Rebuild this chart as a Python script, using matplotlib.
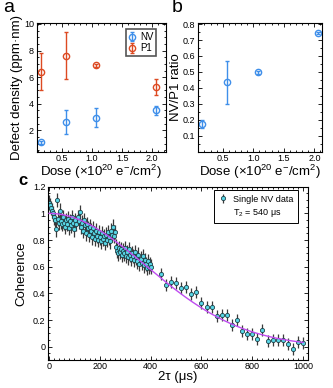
import numpy as np
import matplotlib
matplotlib.use("Agg")
import matplotlib.pyplot as plt
from matplotlib.ticker import MultipleLocator, FuncFormatter
from matplotlib.lines import Line2D

plt.rcParams['font.family'] = ['Liberation Sans', 'DejaVu Sans']
plt.rcParams['mathtext.fontset'] = 'custom'
plt.rcParams['mathtext.rm'] = 'Liberation Sans'
plt.rcParams['mathtext.it'] = 'Liberation Sans:italic'
plt.rcParams['axes.linewidth'] = 0.8

# ---------------- data ----------------
dose = [0.16, 0.57, 1.07, 2.06]
nv_density = [1.1, 2.62, 2.97, 3.5]
nv_density_err = [0.1, 0.9, 0.75, 0.37]
p1_density = [6.4, 7.62, 6.9, 5.25]
p1_density_err = [1.4, 1.76, 0.1, 0.58]

ratio = [0.174, 0.436, 0.497, 0.745]
ratio_err = [0.025, 0.135, 0.008, 0.008]

t_dense = list(range(0, 401, 4))
coh_dense = [1.08, 1.06, 1.04, 1.02, 1.00, 0.97, 0.95, 0.88, 1.10, 0.96,
             0.93, 1.02, 0.94, 0.92, 0.97, 0.93, 0.90, 0.95, 0.92, 0.96,
             0.89, 0.94, 0.91, 0.97, 0.93, 0.88, 0.95, 0.92, 0.97, 0.94,
             1.01, 0.90, 0.93, 0.87, 0.95, 0.91, 0.85, 0.92, 0.89, 0.84,
             0.90, 0.87, 0.82, 0.89, 0.85, 0.81, 0.87, 0.83, 0.80, 0.86,
             0.82, 0.79, 0.85, 0.81, 0.83, 0.78, 0.84, 0.80, 0.86, 0.82,
             0.79, 0.87, 0.84, 0.90, 0.83, 0.86, 0.75, 0.72, 0.70, 0.74,
             0.71, 0.73, 0.69, 0.72, 0.70, 0.74, 0.68, 0.71, 0.67, 0.73,
             0.69, 0.66, 0.70, 0.68, 0.65, 0.71, 0.67, 0.64, 0.69, 0.62,
             0.66, 0.63, 0.68, 0.61, 0.65, 0.62, 0.59, 0.64, 0.60, 0.62,
             0.60]
t_sparse = list(range(440, 1001, 20))
coh_sparse = [0.546, 0.463, 0.488, 0.478, 0.44, 0.445, 0.395, 0.413, 0.327,
              0.295, 0.295, 0.233, 0.238, 0.24, 0.162, 0.20, 0.12, 0.095,
              0.095, 0.057, 0.125, 0.04, 0.053, 0.053, 0.047, 0.02, -0.018,
              0.032, 0.027]
coh_err_dense = 0.055
coh_err_sparse = 0.045
T2 = 540.0      # fitted coherence time (us)
fit_exp = 2.0   # fitted stretch exponent

# ---------------- styles ----------------
blue = '#3f8fea'
red = '#dd4a22'
cyan = '#58d6e6'
purple = '#c04cf0'
tick_fs = 6.5
lab_fs = 9.5

fig = plt.figure(figsize=(3.33, 3.88), dpi=100)

def style_ax(ax):
    ax.tick_params(which='both', direction='in', top=True, right=True,
                   labelsize=tick_fs, width=0.6)
    ax.tick_params(axis='x', which='both', pad=1.5)
    ax.tick_params(axis='y', which='both', pad=2)
    ax.tick_params(which='major', length=3)
    ax.tick_params(which='minor', length=1.5)

gfmt = FuncFormatter(lambda v, p: '%g' % v)
dose_label = 'Dose (×10$^{\\mathregular{20}}$ e$^{\\mathregular{-}}$/cm$^{\\mathregular{2}}$)'

# ---------------- panel a ----------------
axa = fig.add_axes([0.110, 0.609, 0.387, 0.331])
axa.errorbar(dose, nv_density, yerr=nv_density_err, fmt='o', mfc='none',
             mec=blue, color=blue, ms=4.5, mew=1.0, elinewidth=1.0,
             capsize=1.2, capthick=0.8, label='NV')
axa.errorbar(dose, p1_density, yerr=p1_density_err, fmt='o', mfc='none',
             mec=red, color=red, ms=4.5, mew=1.0, elinewidth=1.0,
             capsize=1.2, capthick=0.8, label='P1')
axa.set_xlim(0.08, 2.22)
axa.set_ylim(0.4, 10.05)
axa.xaxis.set_minor_locator(MultipleLocator(0.1))
axa.yaxis.set_major_locator(MultipleLocator(2))
axa.yaxis.set_minor_locator(MultipleLocator(0.5))
axa.set_xticks([0.5, 1.0, 1.5, 2.0])
axa.set_xticklabels(['0.5', '1.0', '1.5', '2.0'])
style_ax(axa)
axa.set_ylabel('Defect density (ppm·nm)', fontsize=lab_fs, labelpad=0.5)
axa.set_xlabel(dose_label, fontsize=lab_fs, labelpad=0)
leg = axa.legend(loc='upper right', bbox_to_anchor=(0.93, 0.955), fontsize=7,
                 handlelength=0.8, handletextpad=0.4, borderpad=0.3,
                 labelspacing=0.15, fancybox=False, framealpha=1,
                 borderaxespad=0)
leg.get_frame().set_edgecolor('#555555')
leg.get_frame().set_linewidth(1.2)
fig.text(0.008, 0.98, 'a', fontsize=14, va='center', ha='left')

# ---------------- panel b ----------------
axb = fig.add_axes([0.5955, 0.609, 0.3705, 0.331])
axb.errorbar(dose, ratio, yerr=ratio_err, fmt='o', mfc='none', mec=blue,
             color=blue, ms=4.5, mew=1.0, elinewidth=1.0, capsize=1.2,
             capthick=0.8)
axb.set_xlim(0.1, 2.12)
axb.set_ylim(0.0, 0.805)
axb.set_xticks([0.5, 1.0, 1.5, 2.0])
axb.set_xticklabels(['0.5', '1.0', '1.5', '2.0'])
axb.xaxis.set_minor_locator(MultipleLocator(0.1))
axb.set_yticks([0.1, 0.2, 0.3, 0.4, 0.5, 0.6, 0.7, 0.8])
axb.yaxis.set_major_formatter(gfmt)
axb.yaxis.set_minor_locator(MultipleLocator(0.05))
style_ax(axb)
axb.set_ylabel('NV/P1 ratio', fontsize=lab_fs, labelpad=0.5)
axb.set_xlabel(dose_label, fontsize=lab_fs, labelpad=0)
fig.text(0.515, 0.98, 'b', fontsize=14, va='center', ha='left')

# ---------------- panel c ----------------
axc = fig.add_axes([0.145, 0.072, 0.779, 0.4468])
tfit = np.linspace(0, 1000, 400)
axc.plot(tfit, np.exp(-(tfit / T2) ** fit_exp), color=purple, lw=1.0, zorder=3)
ekw = dict(fmt='o', color='#3a3a3a', ecolor='#3a3a3a', elinewidth=0.9,
           mfc=cyan, mec='#1f3f46', ms=3.0, mew=0.6, capsize=0)
he = axc.errorbar(t_dense, coh_dense, yerr=coh_err_dense, zorder=2, **ekw)
axc.errorbar(t_sparse, coh_sparse, yerr=coh_err_sparse, zorder=2, **ekw)
axc.set_xlim(-3, 1018)
axc.set_ylim(-0.1, 1.2)
axc.xaxis.set_major_locator(MultipleLocator(200))
axc.xaxis.set_minor_locator(MultipleLocator(20))
axc.yaxis.set_major_locator(MultipleLocator(0.2))
axc.yaxis.set_minor_locator(MultipleLocator(0.05))
axc.yaxis.set_major_formatter(gfmt)
style_ax(axc)
axc.set_xlabel('2τ (μs)', fontsize=lab_fs, labelpad=0)
axc.set_ylabel('Coherence', fontsize=lab_fs, labelpad=4)
blank = Line2D([], [], linestyle='none', marker='none')
legc = axc.legend([he, blank], ['Single NV data', 'T$_{\\mathregular{2}}$ = 540 μs'],
                  loc='upper right', bbox_to_anchor=(0.963, 0.981), fontsize=6.5,
                  handlelength=1.0, handletextpad=0.6, borderpad=0.5,
                  labelspacing=0.35, fancybox=False, framealpha=1,
                  borderaxespad=0)
legc.get_frame().set_edgecolor('black')
legc.get_frame().set_linewidth(0.7)
fig.text(0.055, 0.535, 'c', fontsize=12, fontweight='bold', va='center', ha='left')

fig.savefig('out.png', dpi=100)
